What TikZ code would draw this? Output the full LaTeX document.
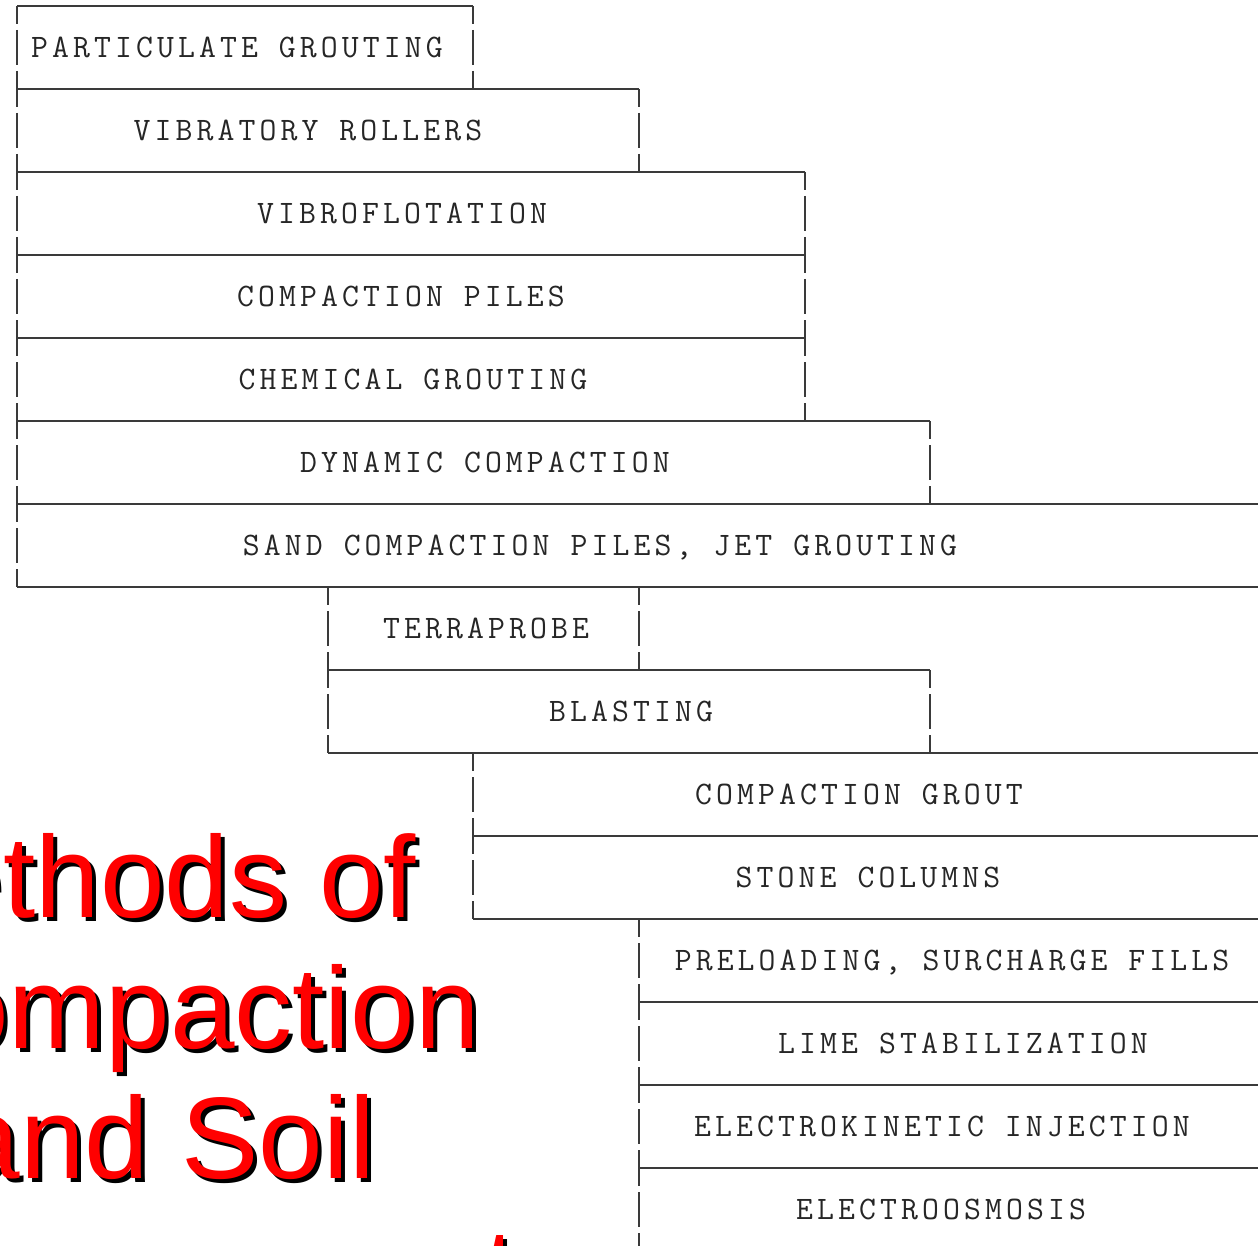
\documentclass[tikz,border=0pt]{standalone}
\usepackage{fontspec}
\newfontfamily\titlefont{Liberation Sans}
\newfontfamily\boxfont{Latin Modern Mono}[LetterSpace=12.5]
\definecolor{linegray}{HTML}{3A3A3A}
\definecolor{titlered}{HTML}{FF0000}
\tikzset{
  edgeline/.style={draw=linegray, line width=0.75pt},
  sideline/.style={draw=linegray, line width=0.75pt, dash pattern=on 17.5pt off 3pt, dash phase=8.5pt},
  thickside/.style={sideline, line width=1.3pt},
  lbl/.style={font=\boxfont\fontsize{16.4}{18}\selectfont, anchor=base, inner sep=0pt, text=black!85},
  ttl/.style={font=\titlefont\fontsize{58}{70}\selectfont, anchor=base west, inner sep=0pt},
  ttlshadow/.style={ttl, text=black},
  ttlred/.style={ttl, text=titlered}
}
\newcommand\mybox[7]{%
  \draw[edgeline] (#2,#4) -- (#3,#4);
  \draw[edgeline] (#2,#4+83) -- (#3,#4+83);
  \draw[#7] (#2,#4) -- (#2,#4+83);
  \draw[sideline] (#3,#4) -- (#3,#4+83);
  \node[lbl] (#1) at (#5,#4+51.5) {#6};
}
\begin{document}
\begin{tikzpicture}[x=0.5pt,y=-0.5pt]
\useasboundingbox (0,0) rectangle (1258,1246);
\clip (0,0) rectangle (1258,1246);
\fill[white] (0,0) rectangle (1258,1246);
% boxes
\mybox{pg}{17}{473}{6}{237}{PARTICULATE GROUTING}{thickside}
\mybox{vr}{17}{639}{89}{308}{VIBRATORY ROLLERS}{thickside}
\mybox{vf}{17}{805}{172}{402}{VIBROFLOTATION}{thickside}
\mybox{cp}{17}{805}{255}{401}{COMPACTION PILES}{thickside}
\mybox{cg}{17}{805}{338}{413}{CHEMICAL GROUTING}{thickside}
\mybox{dc}{17}{930}{421}{485}{DYNAMIC COMPACTION}{thickside}
\mybox{scp}{17}{1275}{504}{600}{SAND COMPACTION PILES, JET GROUTING}{thickside}
\mybox{tp}{328}{639}{587}{486}{TERRAPROBE}{sideline}
\mybox{bl}{328}{930}{670}{631}{BLASTING}{sideline}
\mybox{cgr}{473}{1275}{753}{859}{COMPACTION GROUT}{sideline}
\mybox{stc}{473}{1275}{836}{868}{STONE COLUMNS}{sideline}
\mybox{pl}{639}{1275}{919}{952}{PRELOADING, SURCHARGE FILLS}{sideline}
\mybox{ls}{639}{1275}{1002}{963}{LIME STABILIZATION}{sideline}
\mybox{ek}{639}{1275}{1085}{942}{ELECTROKINETIC INJECTION}{sideline}
\mybox{eo}{639}{1275}{1168}{941}{ELECTROOSMOSIS}{sideline}
% title (cut off at the left)
\node[ttlshadow] (t1s) at (-57.5,921) {ethods of};
\node[ttlred] (t1) at (-61.5,917) {ethods of};
\node[ttlshadow] (t2s) at (-52,1052) {ompaction};
\node[ttlred] (t2) at (-56,1048) {ompaction};
\node[ttlshadow] (t3s) at (-40.5,1182) {and Soil};
\node[ttlred] (t3) at (-44.5,1178) {and Soil};
\node[ttlshadow] (t4s) at (488,1314) {t};
\node[ttlred] (t4) at (484,1310) {t};
\end{tikzpicture}
\end{document}
